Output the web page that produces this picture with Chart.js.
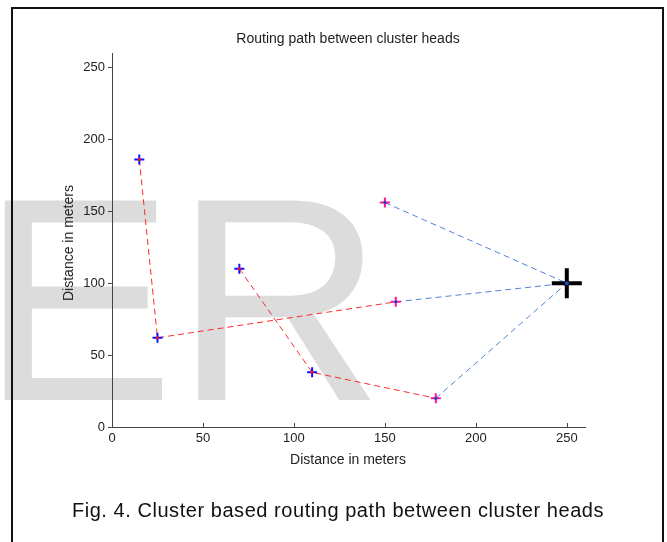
<!DOCTYPE html>
<html>
<head>
<meta charset="utf-8">
<title>Routing path between cluster heads</title>
<script src="https://cdn.jsdelivr.net/npm/chart.js@4/dist/chart.umd.min.js"></script>
<style>
  body { margin: 0; width: 667px; height: 542px; overflow: hidden; position: relative; background: #fff;
         font-family: "Liberation Sans", Arial, sans-serif; }
  #mark { position: absolute; left: -19px; top: 154px; font-size: 290px; line-height: 1; color: #dcdcdc;
          white-space: nowrap; }
  #frame { position: absolute; left: 11px; top: 7px; width: 649px; height: 560px;
           border: 2px solid #111; border-bottom: none; }
  #chart { position: absolute; left: 0; top: 0; }
  .lbl { position: absolute; color: #222; font-family: "Liberation Sans", Arial, sans-serif;
         font-size: 14px; white-space: nowrap; }
  #title { left: 148px; width: 400px; top: 30px; text-align: center; }
  #xlabel { left: 148px; width: 400px; top: 451px; text-align: center; }
  #ylabel { left: 68px; top: 243px; transform: translate(-50%, -50%) rotate(-90deg); }
  #caption { position: absolute; left: 0; width: 676px; top: 499px; text-align: center; font-size: 20px;
             letter-spacing: 0.55px; color: #111; }
</style>
</head>
<body>
<div id="mark">ER</div>
<div id="frame"></div>
<canvas id="chart" width="667" height="542"></canvas>
<div class="lbl" id="title">Routing path between cluster heads</div>
<div class="lbl" id="xlabel">Distance in meters</div>
<div class="lbl" id="ylabel">Distance in meters</div>
<div id="caption">Fig. 4. Cluster based routing path between cluster heads</div>

<script>
// cluster heads chained by the red routes
const routeAx = [15, 25, 156];
const routeAy = [186, 62, 87];
const routeBx = [70, 110, 178];
const routeBy = [110, 38, 20];

// heads that forward straight to the base station
const linkX = [156, 150, 178];
const linkY = [87, 156, 20];

// base station
const sinkX = [250];
const sinkY = [100];

// heads drawn blue, heads drawn magenta
const headsAx = [15, 25, 70, 110];
const headsAy = [186, 62, 110, 38];
const headsBx = [150, 156, 178];
const headsBy = [156, 87, 20];

const xTicks = [0, 50, 100, 150, 200, 250];
const yTicks = [0, 50, 100, 150, 200, 250];
const axisMax = 260;

function pts(xs, ys) {
    return xs.map((x, i) => ({x: x, y: ys[i]}));
}

function lineSet(data, color) {
    return {
        type: 'line', data: data, borderColor: color, borderWidth: 1, borderDash: [6, 4],
        pointRadius: 0, showLine: true, fill: false, order: 5
    };
}

let datasets = [
    lineSet(pts(routeAx, routeAy), '#ff2a2a'),
    lineSet(pts(routeBx, routeBy), '#ff2a2a')
];
linkX.forEach(function (x, i) {
    datasets.push(lineSet(pts([x, sinkX[0]], [linkY[i], sinkY[0]]), '#4f82d8'));
});

function markSet(data, style, color, radius, width, order) {
    return {
        data: data, showLine: false, pointStyle: style, pointRadius: radius,
        pointBorderColor: color, pointBackgroundColor: color, pointBorderWidth: width, order: order
    };
}

datasets.push(markSet(pts(headsAx, headsAy), 'cross', '#1010ff', 5, 2, 3));
datasets.push(markSet(pts(headsAx, headsAy), 'circle', '#ff1010', 1.5, 0, 2));
datasets.push(markSet(pts(headsBx, headsBy), 'cross', '#ff1493', 5, 2, 3));
datasets.push(markSet(pts(headsBx, headsBy), 'circle', '#1040e0', 1.5, 0, 2));
datasets.push(markSet(pts(sinkX, sinkY), 'cross', '#000', 15, 4, 1));
datasets.push(markSet(pts(sinkX, sinkY), 'circle', '#1050c0', 2, 0, 0));

// x ticks point up into the plot
const innerTicks = {
    id: 'innerTicks',
    afterDraw(chart) {
        const ctx = chart.ctx, xs = chart.scales.x, area = chart.chartArea;
        ctx.save();
        ctx.strokeStyle = '#444';
        ctx.lineWidth = 1;
        xTicks.forEach(function (v) {
            const px = Math.round(xs.getPixelForValue(v)) + 0.5;
            ctx.beginPath();
            ctx.moveTo(px, area.bottom);
            ctx.lineTo(px, area.bottom - 4);
            ctx.stroke();
        });
        ctx.restore();
    }
};

const tickFont = {family: '"Liberation Sans", Arial, sans-serif', size: 13};

new Chart(document.getElementById('chart'), {
    type: 'scatter',
    data: {datasets: datasets},
    options: {
        responsive: false,
        animation: false,
        layout: {padding: {left: 0, top: 53, right: 82, bottom: 0}},
        plugins: {legend: {display: false}, tooltip: {enabled: false}},
        scales: {
            x: {
                type: 'linear', min: 0, max: axisMax,
                afterBuildTicks(s) { s.ticks = xTicks.map(v => ({value: v})); },
                afterFit(s) { s.height = 115; },
                grid: {display: true, drawOnChartArea: false, drawTicks: false},
                border: {display: true, color: '#444', width: 1},
                ticks: {color: '#222', font: tickFont, padding: 4, maxRotation: 0}
            },
            y: {
                type: 'linear', min: 0, max: axisMax,
                afterBuildTicks(s) { s.ticks = yTicks.map(v => ({value: v})); },
                afterFit(s) { s.width = 112; },
                grid: {display: true, drawOnChartArea: false, drawTicks: true, tickLength: 4, color: '#444'},
                border: {display: true, color: '#444', width: 1},
                ticks: {color: '#222', font: tickFont, padding: 3}
            }
        }
    },
    plugins: [innerTicks]
});
</script>
</body>
</html>
